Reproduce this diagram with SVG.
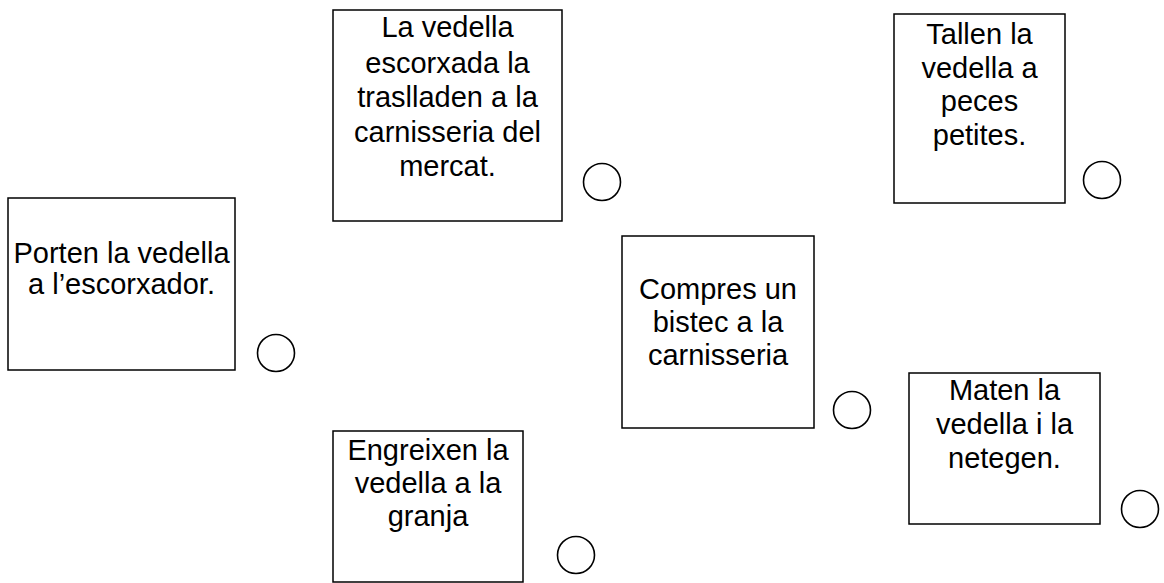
<svg xmlns="http://www.w3.org/2000/svg" width="1164" height="583" viewBox="0 0 1164 583">
<style>
.box{fill:#fff;stroke:#000;stroke-width:1.5}
.c{fill:none;stroke:#000;stroke-width:1.6}
text{font-family:"Liberation Sans",Arial,sans-serif;font-size:29px;fill:#000;text-anchor:middle}
</style>
<rect width="1164" height="583" fill="#fff"/>
<g id="node-porten">
<rect class="box" x="8" y="198" width="227" height="172"/>
<text x="121.5" y="263">Porten la vedella</text>
<text x="121.5" y="294">a l’escorxador.</text>
</g>
<g id="node-trasllat">
<rect class="box" x="333" y="10" width="229" height="211"/>
<text x="447.5" y="37">La vedella</text>
<text x="447.5" y="72.5">escorxada la</text>
<text x="447.5" y="107">traslladen a la</text>
<text x="447.5" y="141.5">carnisseria del</text>
<text x="447.5" y="176">mercat.</text>
</g>
<g id="node-compres">
<rect class="box" x="622" y="236" width="192" height="192"/>
<text x="718" y="299">Compres un</text>
<text x="718" y="332">bistec a la</text>
<text x="718" y="365">carnisseria</text>
</g>
<g id="node-tallen">
<rect class="box" x="894" y="14" width="171" height="189"/>
<text x="979.5" y="44">Tallen la</text>
<text x="979.5" y="77.5">vedella a</text>
<text x="979.5" y="111">peces</text>
<text x="979.5" y="145">petites.</text>
</g>
<g id="node-engreixen">
<rect class="box" x="333" y="431" width="190" height="151"/>
<text x="428" y="460">Engreixen la</text>
<text x="428" y="493">vedella a la</text>
<text x="428" y="526">granja</text>
</g>
<g id="node-maten">
<rect class="box" x="909" y="373" width="191" height="151"/>
<text x="1004.5" y="400">Maten la</text>
<text x="1004.5" y="434">vedella i la</text>
<text x="1004.5" y="468">netegen.</text>
</g>
<g id="connectors"></g>
<g id="circles">
<circle class="c" cx="276" cy="353" r="18.5"/>
<circle class="c" cx="602" cy="182" r="18.5"/>
<circle class="c" cx="852" cy="410" r="18.5"/>
<circle class="c" cx="1102" cy="180" r="18.5"/>
<circle class="c" cx="576" cy="555" r="18.5"/>
<circle class="c" cx="1140" cy="509" r="18.5"/>
</g>
</svg>
